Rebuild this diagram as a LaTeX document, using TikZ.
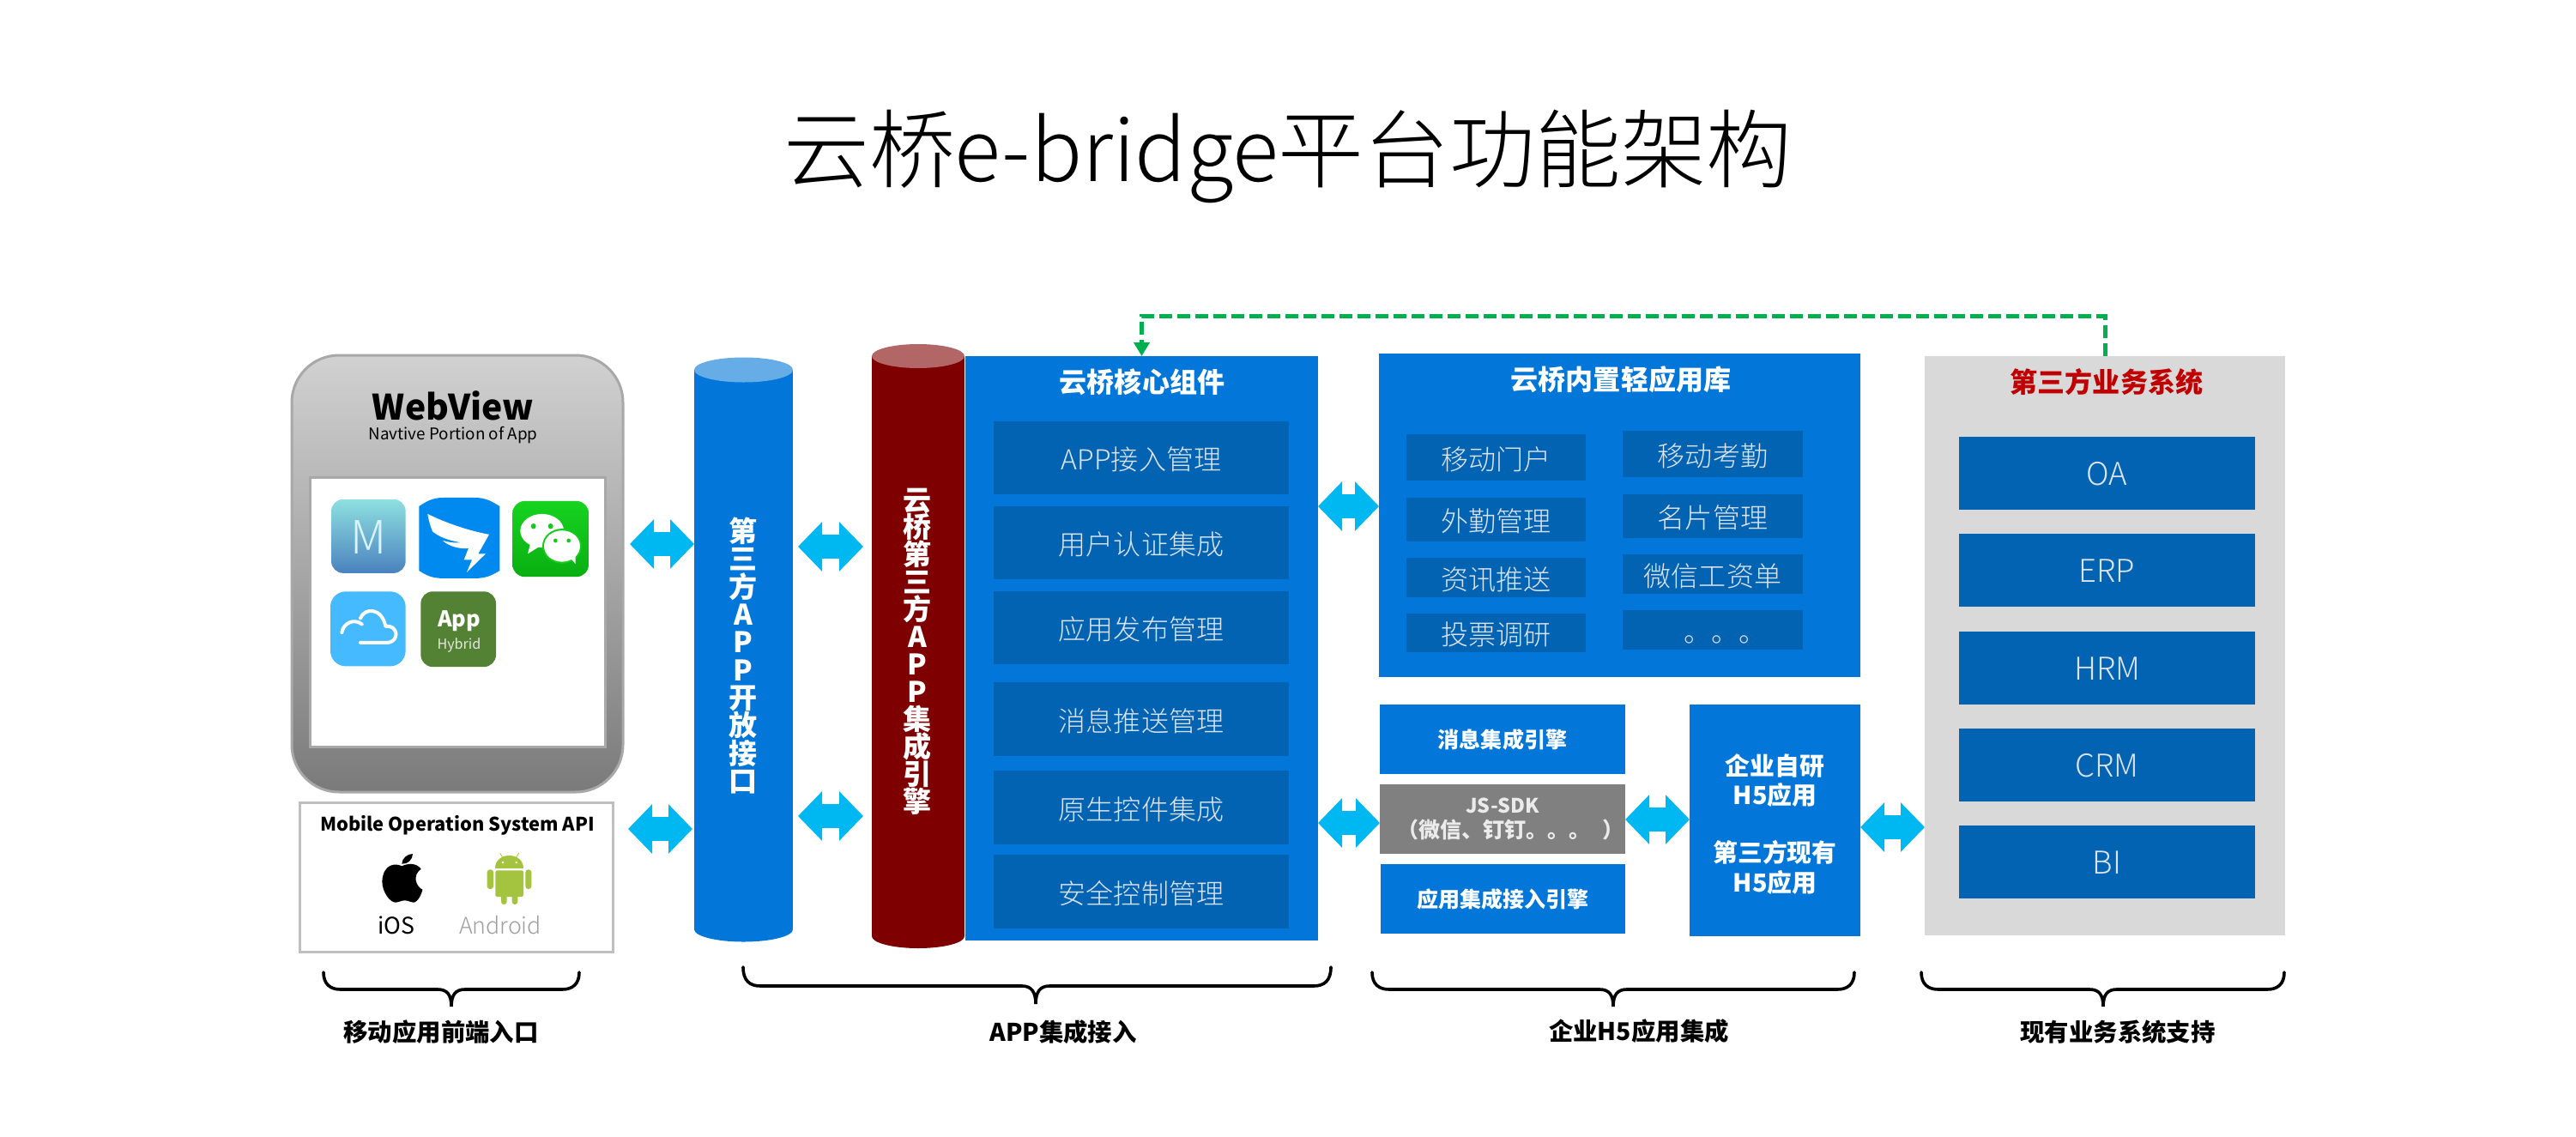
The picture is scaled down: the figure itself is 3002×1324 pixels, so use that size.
\documentclass[tikz,border=0pt]{standalone}
\usepackage{fontspec}
\usetikzlibrary{arrows.meta}
\setmainfont{Noto Sans CJK SC}
\newfontfamily\lightf{Noto Sans CJK SC Light}
\definecolor{azure}{HTML}{0277D9}
\definecolor{deepblue}{HTML}{0263B3}
\definecolor{softtext}{HTML}{DCE4EF}
\definecolor{cyanarrow}{HTML}{00B8F1}
\definecolor{linkgreen}{HTML}{00B050}
\definecolor{maroon}{HTML}{7F0000}
\definecolor{panelgrey}{HTML}{D9D9D9}
\definecolor{framegrey}{HTML}{A8A8A8}
\definecolor{mtop}{HTML}{8FE0E0}
\definecolor{mbot}{HTML}{4A82BE}
\definecolor{ding}{HTML}{0089EE}
\definecolor{wtop}{HTML}{16D31F}
\definecolor{wbot}{HTML}{0AAE12}
\definecolor{cloudblue}{HTML}{45BAFF}
\definecolor{appgreen}{HTML}{548235}
\definecolor{capblue}{HTML}{66ACE6}
\definecolor{capred}{HTML}{B26666}
\definecolor{titlered}{HTML}{C00000}
\definecolor{droid}{HTML}{A4C43F}
\newcommand\sz[1]{\fontsize{#1}{#1}\selectfont}
\newcommand\szb[2]{\fontsize{#1}{#2}\selectfont\lineskiplimit=-30pt\relax}
\newcommand\rbox[7][]{\node[rectbox,#1,minimum width={(#5-#3)*0.25mm},minimum height={(#6-#4)*0.25mm}] (#2) at ({(#3+#5)/2},{(#4+#6)/2}) {#7};}
\newcommand\bracket[6]{\draw[brace line] (#1,#3) .. controls (#1,#4-6) and (#1+8,#4) .. (#1+20,#4) -- (#6-16,#4) .. controls (#6-5,#4) and (#6,#5-14) .. (#6,#5) .. controls (#6,#5-14) and (#6+5,#4) .. (#6+16,#4) -- (#2-20,#4) .. controls (#2-8,#4) and (#2,#4-6) .. (#2,#3);}
\tikzset{
  rectbox/.style={rectangle,inner sep=0pt,outer sep=0pt,align=center},
  azurebox/.style={fill=azure,text=white},
  deepbox/.style={fill=deepblue,text=softtext,font=\lightf\sz{22.8},text height=23pt,text depth=3pt},
  smallbold/.style={font=\bfseries\sz{17.8},text=white},
  headtext/.style={font=\bfseries\sz{22.8},text=white},
  caption/.style={font=\bfseries\sz{20.2},text=black,inner sep=0pt},
  vertical/.style={text=white,align=center,inner sep=0pt},
  blockarrow/.style={draw=cyanarrow,line width=7mm,{Triangle[length=7mm,width=14mm,fill=cyanarrow]}-{Triangle[length=7mm,width=14mm,fill=cyanarrow]}},
  brace line/.style={draw=black,line width=0.9mm,line cap=round},
  greenlink/.style={draw=linkgreen,line width=1.25mm,dash pattern=on 3.75mm off 1.5mm,-{Triangle[length=4mm,width=4.5mm,fill=linkgreen]}},
}
\begin{document}
\begin{tikzpicture}[x=0.25mm,y=-0.25mm]
\useasboundingbox (0,0) rectangle (3002,1324);
\fill[white] (0,0) rectangle (3002,1324);

% title
\node[font=\lightf\sz{71},inner sep=0pt] (title) at (1501,182) {云桥e-bridge平台功能架构};

% webview
\rbox[rounded corners=13.75mm,draw=framegrey,line width=0.75mm,top color=black!18,bottom color=black!52]{web}{340}{414}{726}{923}{}
\node[font=\bfseries\sz{29},inner sep=0pt] (webt) at (528,473) {WebView};
\node[font=\sz{13.4},inner sep=0pt] (webs) at (528,507) {Navtive Portion of App};
\rbox[draw=framegrey,line width=0.75mm,fill=white]{webinner}{361}{556}{705}{870}{}

\begin{scope}[xshift=80mm,yshift=-97.5mm,x=0.083333mm,y=-0.0892857mm]
  % M icon
  \path[top color=mtop,bottom color=mbot,rounded corners=3.5mm] (198,537) rectangle (458,778);
  \node[font=\lightf\sz{38},text=white!85!cyan,inner sep=0pt] (micon) at (328,660) {M};
  % dingtalk
  \fill[ding] (505,560) .. controls (530,545) and (550,532) .. (590,532) -- (700,532) .. controls (740,532) and (760,545) .. (787,560) -- (787,770) .. controls (760,785) and (740,795) .. (700,795) -- (590,795) .. controls (550,795) and (530,785) .. (505,770) -- cycle;
  \fill[white] (535,585) .. controls (600,615) and (680,640) .. (750,652) -- (712,715) -- (738,715) -- (672,775) -- (690,735) -- (662,735) -- (678,697) .. controls (650,700) and (610,692) .. (588,672) .. controls (620,680) and (640,680) .. (650,678) .. controls (610,672) and (575,660) .. (552,642) .. controls (545,625) and (538,605) .. (535,585) -- cycle;
  % wechat
  \path[top color=wtop,bottom color=wbot,rounded corners=3.5mm] (832,543) rectangle (1098,790);
  \fill[white] (935,640) ellipse [x radius=76,y radius=55];
  \fill[white] (895,680) -- (885,715) -- (925,692) -- cycle;
  \fill[wtop!80!wbot] (1005,690) ellipse [x radius=69,y radius=57];
  \fill[white] (1005,690) ellipse [x radius=63,y radius=51];
  \fill[white] (1030,725) -- (1052,748) -- (1052,715) -- cycle;
  \fill[wtop!80!wbot] (905,625) circle [radius=9] (965,625) circle [radius=9] (982,672) circle [radius=7] (1028,672) circle [radius=7];
  % cloud
  \fill[cloudblue,rounded corners=4.5mm] (195,838) rectangle (458,1082);
  \draw[white,line width=1mm,line cap=round] (235,972) .. controls (240,940) and (280,925) .. (305,945);
  \draw[white,line width=1mm,line cap=round,line join=round] (300,1005) -- (395,1005) .. controls (440,1000) and (430,945) .. (388,952) .. controls (375,890) and (315,890) .. (300,925);
  % app hybrid
  \fill[appgreen,rounded corners=3.5mm] (511,838) rectangle (774,1084);
  \node[font=\bfseries\sz{18},text=white,inner sep=0pt] (apptxt) at (645,935) {App};
  \node[font=\sz{11.5},text=white!90!black,inner sep=0pt] (hybtxt) at (645,1013) {Hybrid};
\end{scope}

% OS api
\rbox[draw=black!25,line width=0.75mm,fill=white]{api}{349}{935}{714}{1109}{}
\node[font=\bfseries\sz{15.5},inner sep=0pt] (apit) at (533,962) {Mobile Operation System API};
\begin{scope}[xshift=80mm,yshift=-230mm,x=0.083333mm,y=-0.083333mm]
  \fill[black] (445,268) .. controls (420,255) and (380,262) .. (376,320) .. controls (376,360) and (405,397) .. (425,395) .. controls (435,395) and (440,388) .. (455,388) .. controls (470,388) and (475,395) .. (485,395) .. controls (500,395) and (515,365) .. (517,350) .. controls (495,340) and (480,300) .. (512,278) .. controls (495,255) and (465,258) .. (445,268) -- cycle;
  \fill[black] (445,260) .. controls (445,240) and (465,225) .. (483,225) .. controls (483,245) and (465,262) .. (445,260) -- cycle;
  \fill[droid] (772,275) .. controls (772,215) and (870,215) .. (870,275) -- cycle;
  \fill[droid,rounded corners=0.4mm] (772,283) rectangle (870,375);
  \fill[droid,rounded corners=0.8mm] (743,280) rectangle (765,348);
  \fill[droid,rounded corners=0.8mm] (877,280) rectangle (898,348);
  \fill[droid,rounded corners=0.8mm] (792,360) rectangle (812,402);
  \fill[droid,rounded corners=0.8mm] (830,360) rectangle (850,402);
  \draw[droid,line width=0.2mm] (788,222) -- (800,242) (854,222) -- (842,242);
  \fill[white] (798,255) circle [radius=4] (845,255) circle [radius=4];
\end{scope}
\node[font=\sz{19},inner sep=0pt] (ios) at (462,1078) {iOS};
\node[font=\lightf\sz{19},text=black!38,inner sep=0pt] (android) at (583,1078) {Android};

% cylinders
\rbox[fill=azure]{port}{809}{431}{924}{1083}{}
\fill[azure] (port.south) ellipse [x radius=57.5,y radius=14.5];
\fill[capblue] (port.north) ellipse [x radius=57.5,y radius=14.5];
\node[vertical,font=\bfseries\szb{23.5}{23}] (portt) at (866,764) {第\\三\\方\\A\\P\\P\\开\\放\\接\\口};

\rbox[fill=maroon]{engine}{1016}{415}{1124}{1091}{}
\fill[maroon] (engine.south) ellipse [x radius=54,y radius=14];
\fill[capred] (engine.north) ellipse [x radius=54,y radius=14];
\node[vertical,font=\bfseries\szb{23.5}{22.7}] (enginet) at (1069,759) {云\\桥\\第\\三\\方\\A\\P\\P\\集\\成\\引\\擎};

% core
\rbox[azurebox]{core}{1125}{415}{1536}{1096}{}
\node[headtext,inner sep=0pt] (coret) at (1331,445) {云桥核心组件};
\rbox[deepbox]{c1}{1158}{491}{1502}{576}{APP接入管理}
\rbox[deepbox]{c2}{1158}{590}{1502}{675}{用户认证集成}
\rbox[deepbox]{c3}{1158}{689}{1502}{774}{应用发布管理}
\rbox[deepbox]{c4}{1158}{795}{1502}{881}{消息推送管理}
\rbox[deepbox]{c5}{1158}{898}{1502}{984}{原生控件集成}
\rbox[deepbox]{c6}{1158}{996}{1502}{1082}{安全控制管理}

% library
\rbox[azurebox]{lib}{1607}{412}{2168}{789}{}
\node[headtext,inner sep=0pt] (libt) at (1889,442) {云桥内置轻应用库};
\rbox[deepbox]{l1}{1639}{506}{1848}{560}{移动门户}
\rbox[deepbox]{l2}{1639}{580}{1848}{631}{外勤管理}
\rbox[deepbox]{l3}{1639}{650}{1848}{696}{资讯推送}
\rbox[deepbox]{l4}{1639}{715}{1848}{760}{投票调研}
\rbox[deepbox]{r1}{1891}{502}{2101}{556}{移动考勤}
\rbox[deepbox]{r2}{1891}{576}{2101}{627}{名片管理}
\rbox[deepbox]{r3}{1891}{646}{2101}{692}{微信工资单}
\rbox[deepbox]{r4}{1891}{711}{2101}{757}{\kern21pt 。。。}

% engines
\rbox[azurebox,smallbold]{e1}{1608}{821}{1894}{902}{消息集成引擎}
\rbox[fill=black!50,text=white!92!black,font=\bfseries\sz{17.8}]{e2}{1608}{914}{1894}{995}{{\sz{16.5}JS-SDK}\\[3pt]\kern14pt（微信、钉钉。。。\kern10pt）}
\rbox[azurebox,smallbold]{e3}{1609}{1007}{1894}{1088}{应用集成接入引擎}
\rbox[azurebox,font=\bfseries\szb{20.5}{24.6}]{h5}{1969}{821}{2168}{1091}{\rule{0pt}{23.7pt}企业自研\\H5应用\\[23pt]第三方现有\\H5应用}

% third party
\rbox[fill=panelgrey]{third}{2243}{415}{2663}{1090}{}
\node[font=\bfseries\sz{22.8},text=titlered,inner sep=0pt] (thirdt) at (2455,445) {第三方业务系统};
\rbox[deepbox,font=\lightf\sz{26}]{oa}{2283}{509}{2628}{594}{OA}
\rbox[deepbox,font=\lightf\sz{26}]{erp}{2283}{622}{2628}{707}{ERP}
\rbox[deepbox,font=\lightf\sz{26}]{hrm}{2283}{736}{2628}{821}{HRM}
\rbox[deepbox,font=\lightf\sz{26}]{crm}{2283}{849}{2628}{934}{CRM}
\rbox[deepbox,font=\lightf\sz{26}]{bi}{2283}{962}{2628}{1047}{BI}

% block arrows
\coordinate (y1) at (0,634);
\coordinate (y2) at (0,966);
\coordinate (y3) at (0,637);
\coordinate (y4) at (0,951);
\coordinate (y5) at (0,590);
\coordinate (y6) at (0,959);
\coordinate (y7) at (0,955);
\coordinate (y8) at (0,964);
\draw[blockarrow,shorten <=2mm] (web.east |- y1) -- (port.west |- y1);
\draw[blockarrow,shorten <=4.5mm,shorten >=0.5mm] (api.east |- y2) -- (port.west |- y2);
\draw[blockarrow,shorten <=1.5mm,shorten >=2.5mm] (port.east |- y3) -- (engine.west |- y3);
\draw[blockarrow,shorten <=1.5mm,shorten >=2.5mm] (port.east |- y4) -- (engine.west |- y4);
\draw[blockarrow] (core.east |- y5) -- (lib.west |- y5);
\draw[blockarrow] (core.east |- y6) -- (e2.west |- y6);
\draw[blockarrow] (e2.east |- y7) -- (h5.west |- y7);
\draw[blockarrow] (h5.east |- y8) -- (third.west |- y8);

% green link
\coordinate (rail) at (0,368);
\draw[greenlink] (third.north) -- (third.north |- rail) -- (core.north |- rail) -- (core.north);

% braces and captions
\bracket{377}{675}{1133}{1153}{1173}{526}
\bracket{866}{1551}{1127}{1149}{1170}{1207}
\bracket{1599}{2161}{1133}{1153}{1173}{1880}
\bracket{2239}{2662}{1133}{1153}{1173}{2451}
\node[caption] (cap1) at (514,1203) {移动应用前端入口};
\node[caption] (cap2) at (1239,1203) {APP集成接入};
\node[caption] (cap3) at (1910,1202) {企业H5应用集成};
\node[caption] (cap4) at (2468,1203) {现有业务系统支持};
\end{tikzpicture}
\end{document}
